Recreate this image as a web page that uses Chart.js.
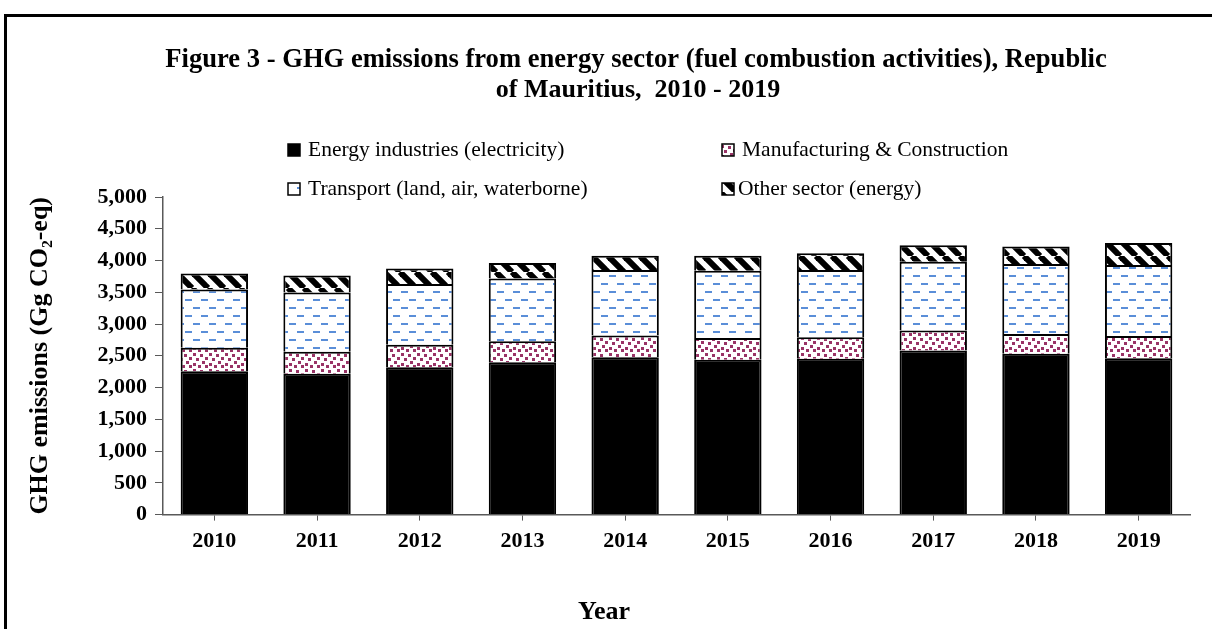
<!DOCTYPE html>
<html>
<head>
<meta charset="utf-8">
<script src="https://cdn.jsdelivr.net/npm/chart.js@4.4.1/dist/chart.umd.min.js"></script>
<style>
    html, body { margin: 0; padding: 0; background: #fff; overflow: hidden; }
    #frame {
        position: absolute; left: 4px; top: 14px; width: 1300px; height: 700px;
        border-left: 3px solid #000; border-top: 3px solid #000;
    }
    #wrap { position: absolute; left: 0; top: 0; width: 1212px; height: 629px; }
</style>
</head>
<body>
<div id="frame"></div>
<div id="wrap"><canvas id="ghgChart"></canvas></div>
<script>
// Figure 3 - GHG emissions dari sektor energi (Gg CO2-eq), 2010 - 2019.
// Nilai dibaca dari gambar asli (stacked bar).
const YEARS         = ['2010','2011','2012','2013','2014','2015','2016','2017','2018','2019'];
const ENERGY        = [2258, 2217, 2320, 2399, 2478, 2437, 2452, 2583, 2531, 2462];
const MANUFACTURING = [367, 345, 352, 330, 340, 345, 340, 314, 314, 351];
const TRANSPORT     = [920, 936, 958, 989, 1031, 1057, 1057, 1083, 1099, 1115];
const OTHER         = [251, 267, 245, 242, 225, 235, 267, 262, 276, 346];
const Y_MAX  = 5000;
const Y_STEP = 500;

const TITLE_LINES = ['Figure 3 - GHG emissions from energy sector (fuel combustion activities), Republic',
                     'of Mauritius,  2010 - 2019'];
const SERIF = "'Liberation Serif', 'Times New Roman', serif";

// pola isi bar (kotak marun, garis putus biru, arsir diagonal)
function makePattern(size, draw) {
    const c = document.createElement('canvas');
    c.width = size; c.height = size;
    const g = c.getContext('2d');
    g.fillStyle = '#fff';
    g.fillRect(0, 0, size, size);
    draw(g, size);
    return g.createPattern(c, 'repeat');
}

const dotsPattern = makePattern(16, (g) => {
    g.fillStyle = '#993366';
    [[1,1],[8,2],[13,5],[4,6],[10,9],[1,11],[6,13],[13,13]].forEach(([x, y]) => g.fillRect(x, y, 3, 3));
});

const dashPattern = makePattern(16, (g) => {
    g.fillStyle = '#5a8ed8';
    g.fillRect(1, 3, 7, 2);
    g.fillRect(9, 11, 7, 2);
});

const hatchPattern = makePattern(16, (g, s) => {
    g.strokeStyle = '#000';
    g.lineWidth = 6;
    [-s, 0, s].forEach(off => {
        g.beginPath();
        g.moveTo(off, 0);
        g.lineTo(off + s, s);
        g.stroke();
    });
});

// judul, legend 2x2 dan label "Year" digambar di posisi tetap
const figureText = {
    id: 'figureText',
    afterDraw(chart) {
        const ctx = chart.ctx;
        ctx.save();
        ctx.fillStyle = '#000';
        ctx.textBaseline = 'middle';

        ctx.textAlign = 'center';
        ctx.font = `bold 26.6px ${SERIF}`;
        ctx.fillText(TITLE_LINES[0], 636, 60);
        ctx.font = `bold 26px ${SERIF}`;
        ctx.fillText(TITLE_LINES[1], 638, 90);

        ctx.fillText('Year', 604, 612);

        const slots = [[288, 150], [722, 150], [288, 189], [722, 189]];
        ctx.textAlign = 'left';
        ctx.font = `21.5px ${SERIF}`;
        chart.data.datasets.forEach((ds, i) => {
            const [x, y] = slots[i];
            ctx.fillStyle = ds.backgroundColor;
            ctx.fillRect(x, y - 6, 12, 12);
            ctx.strokeStyle = '#000';
            ctx.lineWidth = 1.5;
            ctx.strokeRect(x, y - 6, 12, 12);
            ctx.fillStyle = '#000';
            ctx.fillText(ds.label, x + (i === 3 ? 16 : 20), y);
        });
        ctx.restore();
    }
};

function buildDataset(label, data, fill) {
    return {
        label, data,
        backgroundColor: fill,
        borderColor: '#000',
        borderWidth: 2,
        categoryPercentage: 1,
        barPercentage: 0.656
    };
}

new Chart(document.getElementById('ghgChart').getContext('2d'), {
    type: 'bar',
    data: {
        labels: YEARS,
        datasets: [
            buildDataset('Energy industries (electricity)', ENERGY, '#000'),
            buildDataset('Manufacturing & Construction', MANUFACTURING, dotsPattern),
            buildDataset('Transport (land, air, waterborne)', TRANSPORT, dashPattern),
            buildDataset('Other sector (energy)', OTHER, hatchPattern)
        ]
    },
    options: {
        responsive: true,
        maintainAspectRatio: false,
        animation: false,
        layout: { padding: { left: 23, right: 22, top: 197, bottom: 66 } },
        plugins: {
            legend: { display: false },
            title: { display: false },
            tooltip: { enabled: false }
        },
        scales: {
            x: {
                stacked: true,
                grid: { drawOnChartArea: false, offset: false, tickLength: 6, color: '#595959' },
                border: { color: '#595959', width: 1.5 },
                ticks: { padding: 8, color: '#000', font: { family: SERIF, size: 22, weight: 'bold' } }
            },
            y: {
                stacked: true,
                min: 0, max: Y_MAX,
                afterFit: (scale) => { scale.width = 140; },
                grid: { drawOnChartArea: false, tickLength: 8, color: '#595959' },
                border: { color: '#595959', width: 1.5 },
                ticks: {
                    stepSize: Y_STEP, padding: 8, color: '#000',
                    font: { family: SERIF, size: 22, weight: 'bold' },
                    callback: v => Number(v).toLocaleString('en-US')
                },
                title: {
                    display: true,
                    text: 'GHG emissions (Gg CO₂-eq)',
                    color: '#000',
                    padding: { top: 2, bottom: 4 },
                    font: { family: SERIF, size: 26, weight: 'bold' }
                }
            }
        }
    },
    plugins: [figureText]
});
</script>
</body>
</html>
